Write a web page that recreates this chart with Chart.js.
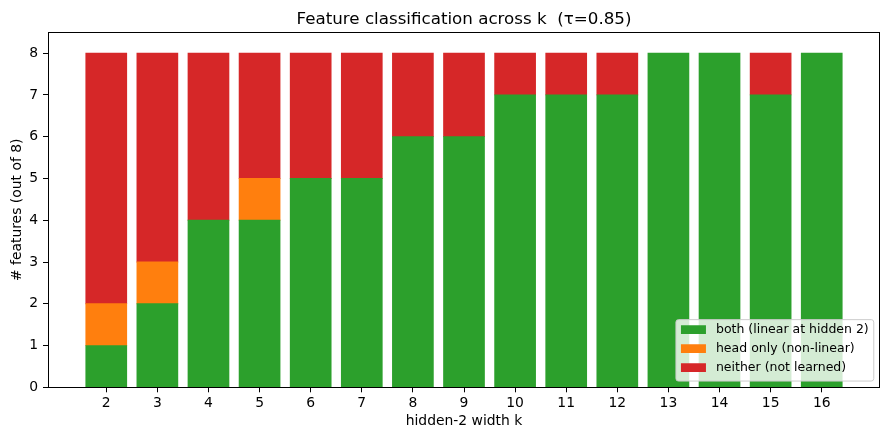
<!DOCTYPE html>
<html>
<head>
<meta charset="utf-8">
<script src="https://cdn.jsdelivr.net/npm/chart.js@4/dist/chart.umd.min.js"></script>
<style>
  body { margin: 0; background: #fff; }
  canvas { display: block; }
</style>
</head>
<body>
<canvas id="myChart" width="889" height="440"></canvas>
<script>
/* data */
const widths = [2, 3, 4, 5, 6, 7, 8, 9, 10, 11, 12, 13, 14, 15, 16];
const both = [1, 2, 4, 4, 5, 5, 6, 6, 7, 7, 7, 8, 8, 7, 8];
const headOnly = [1, 1, 0, 1, 0, 0, 0, 0, 0, 0, 0, 0, 0, 0, 0];
const neither = [6, 5, 4, 3, 3, 3, 2, 2, 1, 1, 1, 0, 0, 1, 0];
const yTicks = [0, 1, 2, 3, 4, 5, 6, 7, 8];
const titleText = 'Feature classification across k  (τ=0.85)';

const FONT = '"DejaVu Sans", sans-serif';

function points(values) {
  return widths.map(function (k, i) {
    return { x: k, y: values[i] };
  });
}

// overlap stacked segments a little so no seam shows; empty segments stay empty
function inflate(c) {
  return c.raw && c.raw.y === 0 ? 0 : 0.4;
}

/* frame, title and legend drawn like matplotlib */
const mplExtras = {
  id: 'mplExtras',
  afterDatasetsDraw(chart) {
    const c = chart.ctx;
    const a = chart.chartArea;
    c.save();
    c.strokeStyle = '#000';
    c.lineWidth = 1;
    c.strokeRect(Math.round(a.left) + 0.5, Math.round(a.top) + 0.5,
      Math.round(a.right - a.left) - 1, Math.round(a.bottom - a.top));
    c.restore();
  },
  afterDraw(chart) {
    const c = chart.ctx;
    const a = chart.chartArea;
    c.save();
    // title
    c.fillStyle = '#000';
    c.font = '16.7px ' + FONT;
    c.textAlign = 'center';
    c.textBaseline = 'alphabetic';
    c.fillText(titleText, (a.left + a.right) / 2, a.top - 8.3);

    // legend
    const fs = 12.5;
    c.font = fs + 'px ' + FONT;
    const sets = chart.data.datasets;
    const textW = Math.max.apply(null, sets.map(function (d) { return c.measureText(d.label).width; }));
    const pad = 0.4 * fs, handleW = 2 * fs, gap = 0.8 * fs, rowH = 19;
    const boxW = pad * 2 + handleW + gap + textW;
    const boxH = 61.4;
    const bx = a.right - 0.5 * fs - boxW;
    const by = a.bottom - 0.5 * fs - boxH;
    c.beginPath();
    c.roundRect(bx, by, boxW, boxH, 2.5);
    c.fillStyle = 'rgba(255,255,255,0.8)';
    c.fill();
    c.strokeStyle = '#cccccc';
    c.lineWidth = 1;
    c.stroke();
    c.textAlign = 'left';
    c.textBaseline = 'middle';
    sets.forEach(function (d, i) {
      const cy = by + 10 + i * rowH;
      c.fillStyle = d.backgroundColor;
      c.fillRect(bx + pad, cy - 4.4, handleW, 8.75);
      c.fillStyle = '#000';
      c.fillText(d.label, bx + pad + handleW + gap, cy + 0.5);
    });
    c.restore();
  }
};

const ctx = document.getElementById('myChart').getContext('2d');

const chart = new Chart(ctx, {
  type: 'bar',
  data: {
    datasets: [
      {
        label: 'both (linear at hidden 2)',
        backgroundColor: '#2ca02c',
        borderWidth: 0,
        inflateAmount: inflate,
        data: points(both),
      },
      {
        label: 'head only (non-linear)',
        backgroundColor: '#ff7f0e',
        borderWidth: 0,
        inflateAmount: inflate,
        data: points(headOnly),
      },
      {
        label: 'neither (not learned)',
        backgroundColor: '#d62728',
        borderWidth: 0,
        inflateAmount: inflate,
        data: points(neither),
      },
    ],
  },
  options: {
    responsive: false,
    devicePixelRatio: 1,
    animation: false,
    barPercentage: 0.8,
    categoryPercentage: 1.0,
    layout: {
      padding: { top: 32.3, right: 9, left: 0, bottom: 0 },
    },
    plugins: {
      legend: { display: false },
      title: { display: false },
      tooltip: { enabled: false },
    },
    scales: {
      x: {
        type: 'linear',
        stacked: true,
        offset: false,
        min: 0.86,
        max: 17.14,
        afterBuildTicks: function (axis) {
          axis.ticks = widths.map(function (v) { return { value: v }; });
        },
        afterFit: function (axis) {
          axis.height = 52.7;
        },
        grid: {
          display: true,
          offset: false,
          drawOnChartArea: false,
          drawTicks: true,
          tickLength: 5,
          color: '#000',
          lineWidth: 1,
        },
        border: { display: false },
        ticks: {
          color: '#000',
          font: { family: FONT, size: 13.9 },
          padding: 3,
          maxRotation: 0,
          autoSkip: false,
        },
        title: {
          display: true,
          text: 'hidden-2 width k',
          color: '#000',
          font: { family: FONT, size: 13.9 },
          padding: { top: 0, bottom: 10.2 },
        },
      },
      y: {
        stacked: true,
        min: 0,
        max: 8.5,
        afterBuildTicks: function (axis) {
          axis.ticks = yTicks.map(function (v) { return { value: v }; });
        },
        afterFit: function (axis) {
          axis.width = 48;
        },
        grid: {
          display: true,
          drawOnChartArea: false,
          drawTicks: true,
          tickLength: 5,
          color: '#000',
          lineWidth: 1,
        },
        border: { display: false },
        ticks: {
          color: '#000',
          font: { family: FONT, size: 13.9 },
          padding: 4.9,
        },
        title: {
          display: true,
          text: '# features (out of 8)',
          color: '#000',
          font: { family: FONT, size: 13.9 },
          padding: { top: 8.7, bottom: 0 },
        },
      },
    },
  },
  plugins: [mplExtras],
});
</script>
</body>
</html>
